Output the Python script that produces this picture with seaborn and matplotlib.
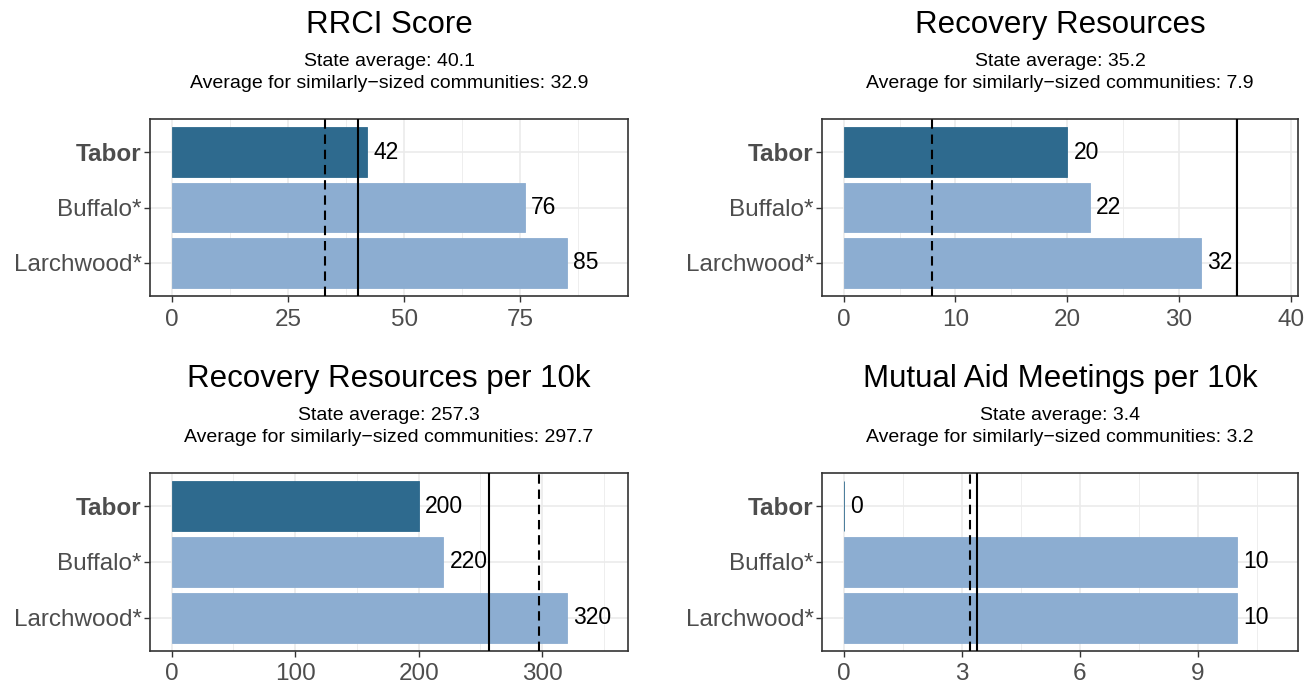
import numpy as np
import pandas as pd
import matplotlib.pyplot as plt
import seaborn as sns

communities = ['Tabor', 'Buffalo*', 'Larchwood*']
titles = ['RRCI Score', 'Recovery Resources',
          'Recovery Resources per 10k', 'Mutual Aid Meetings per 10k']
rrci = [42, 76, 85]
resources = [20, 22, 32]
resources_10k = [200, 220, 320]
meetings_10k = [0, 10, 10]
state_avg = [40.1, 35.2, 257.3, 3.4]
similar_avg = [32.9, 7.9, 297.7, 3.2]
x_ticks = [[0, 25, 50, 75], [0, 10, 20, 30, 40], [0, 100, 200, 300], [0, 3, 6, 9]]

series = [rrci, resources, resources_10k, meetings_10k]
palette = {'Tabor': '#2E6A8E', 'Buffalo*': '#8CADD1', 'Larchwood*': '#8CADD1'}

sns.set_style('white')
plt.rcParams['font.family'] = ['Liberation Sans', 'DejaVu Sans']

W, H = 1312, 684
fig = plt.figure(figsize=(W / 100, H / 100), dpi=100)

# panel boxes in pixels: left, top, right, bottom
boxes = [(150, 119, 628, 296), (822, 119, 1298, 296),
         (150, 473, 628, 651), (822, 473, 1298, 651)]

for k in range(4):
    l, t, r, b = boxes[k]
    ax = fig.add_axes([l / W, 1 - b / H, (r - l) / W, (b - t) / H])
    df = pd.DataFrame({'community': communities, 'value': series[k]})

    top = max(max(series[k]), state_avg[k], similar_avg[k]) * 1.1
    lo, hi = -0.05 * top, 1.05 * top
    ticks = x_ticks[k]
    step = ticks[1] - ticks[0]
    minors = np.arange(ticks[0] - step / 2, hi + step, step)
    minors = minors[(minors > lo) & (minors < hi)]
    for m in minors:
        ax.axvline(m, color='#EBEBEB', lw=0.6, zorder=0)
    for tk in ticks:
        ax.axvline(tk, color='#EBEBEB', lw=1.2, zorder=0)
    for i in range(3):
        ax.axhline(i, color='#EBEBEB', lw=1.2, zorder=0)

    sns.barplot(data=df, x='value', y='community', hue='community', palette=palette,
                orient='h', width=0.9, saturation=1, legend=False, ax=ax, zorder=2)
    for p in ax.patches:
        p.set_edgecolor(p.get_facecolor())
        p.set_linewidth(0.6)

    ax.axvline(similar_avg[k], color='black', lw=1.5, ls=(0, (4.5, 2.8)), zorder=3)
    ax.axvline(state_avg[k], color='black', lw=1.5, zorder=3)

    for i, v in enumerate(series[k]):
        ax.annotate(str(v), (v, i), xytext=(4.5, 0), textcoords='offset points',
                    va='center', ha='left', fontsize=16.5, color='black', zorder=4)

    ax.set_xlim(lo, hi)
    ax.set_ylim(2.6, -0.6)
    ax.set_xticks(ticks)
    ax.set_xticklabels([str(tk) for tk in ticks])
    ax.set_xlabel('')
    ax.set_ylabel('')
    ax.tick_params(axis='both', length=4, width=1, color='#333333',
                   labelsize=17.5, labelcolor='#4D4D4D', pad=2, bottom=True, left=True)
    ax.tick_params(axis='x', pad=5)
    ax.get_yticklabels()[0].set_fontweight('bold')
    for s in ax.spines.values():
        s.set_color('#333333')
        s.set_linewidth(1.2)

    cx = (l + r) / 2 / W
    fig.text(cx, 1 - 25 / H, titles[k], ha='center', va='center', fontsize=22.5,
             color='black')
    fig.text(cx, 1 - 61 / H, f'State average: {state_avg[k]}', ha='center',
             va='center', fontsize=14, color='black')
    fig.text(cx, 1 - 84 / H,
             f'Average for similarly\u2212sized communities: {similar_avg[k]}',
             ha='center', va='center', fontsize=14, color='black')

# second row titles sit lower
for txt in fig.texts[6:]:
    x, y = txt.get_position()
    txt.set_position((x, y - 354 / H))

fig.savefig('out.png', dpi=100)
